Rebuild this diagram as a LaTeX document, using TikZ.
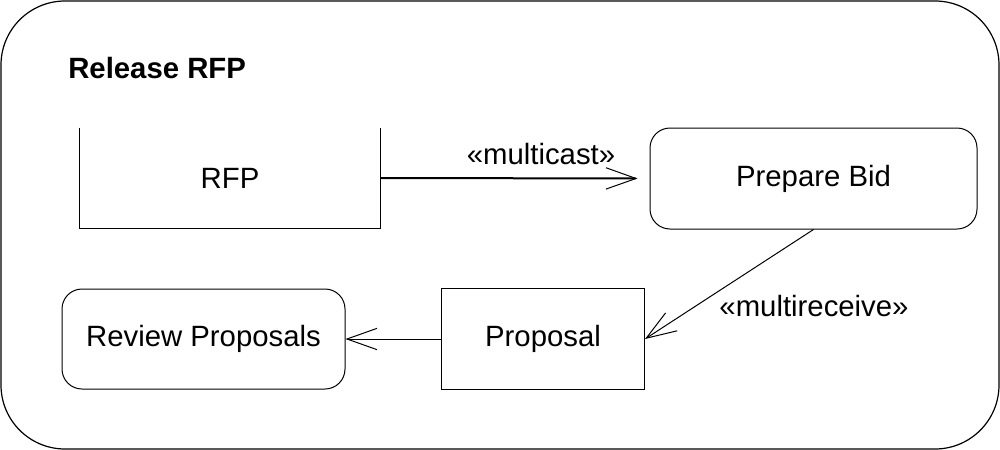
\documentclass[tikz,border=0pt]{standalone}
\usepackage{fontspec}
\setmainfont{Liberation Sans}
\usetikzlibrary{arrows.meta}
\begin{document}
\begin{tikzpicture}[x=0.75pt,y=-0.75pt,
  every node/.style={font=\fontsize{22}{26}\selectfont},
  frame/.style={draw,line width=0.9pt,rounded corners=48pt,minimum width=748.5pt,minimum height=336pt,inner sep=0pt},
  objbox/.style={minimum width=225pt,minimum height=75pt,inner sep=0pt},
  actbox/.style={draw,line width=0.75pt,rounded corners=15pt,inner sep=0pt},
  pinbox/.style={draw,line width=0.75pt,inner sep=0pt},
  flow/.style={line width=0.75pt,-{Straight Barb[length=22.5pt,width=16pt,line width=0.75pt]}},
  lbl/.style={inner sep=0pt}
]
\useasboundingbox (0,0) rectangle (1000,450);
\node[frame] (frame) at (500,225) {};
\node[anchor=west,inner sep=0pt,font=\fontsize{22}{26}\selectfont\bfseries] (title) at (68,68) {Release RFP};
\node[objbox] (rfp) at (230,178) {RFP};
\draw[line width=0.75pt] (rfp.north west) -- (rfp.south west) -- (rfp.south east) -- (rfp.north east);
\node[actbox,minimum width=245.25pt,minimum height=75.75pt] (bid) at (813.5,178.5) {Prepare Bid};
\node[pinbox,minimum width=152.25pt,minimum height=75.75pt] (prop) at (543,339) {Proposal};
\node[actbox,minimum width=212.25pt,minimum height=75pt] (review) at (203.5,339) {Review Proposals};
\draw[flow,line width=1.5pt,shorten >=9pt] (rfp.east) -- (bid.west);
\draw[flow] (bid.south) -- (prop.east);
\draw[flow] (prop.west) -- (review.east);
\node[lbl] (l1) at (541,154) {«multicast»};
\node[lbl] (l2) at (814,306) {«multireceive»};
\end{tikzpicture}
\end{document}
